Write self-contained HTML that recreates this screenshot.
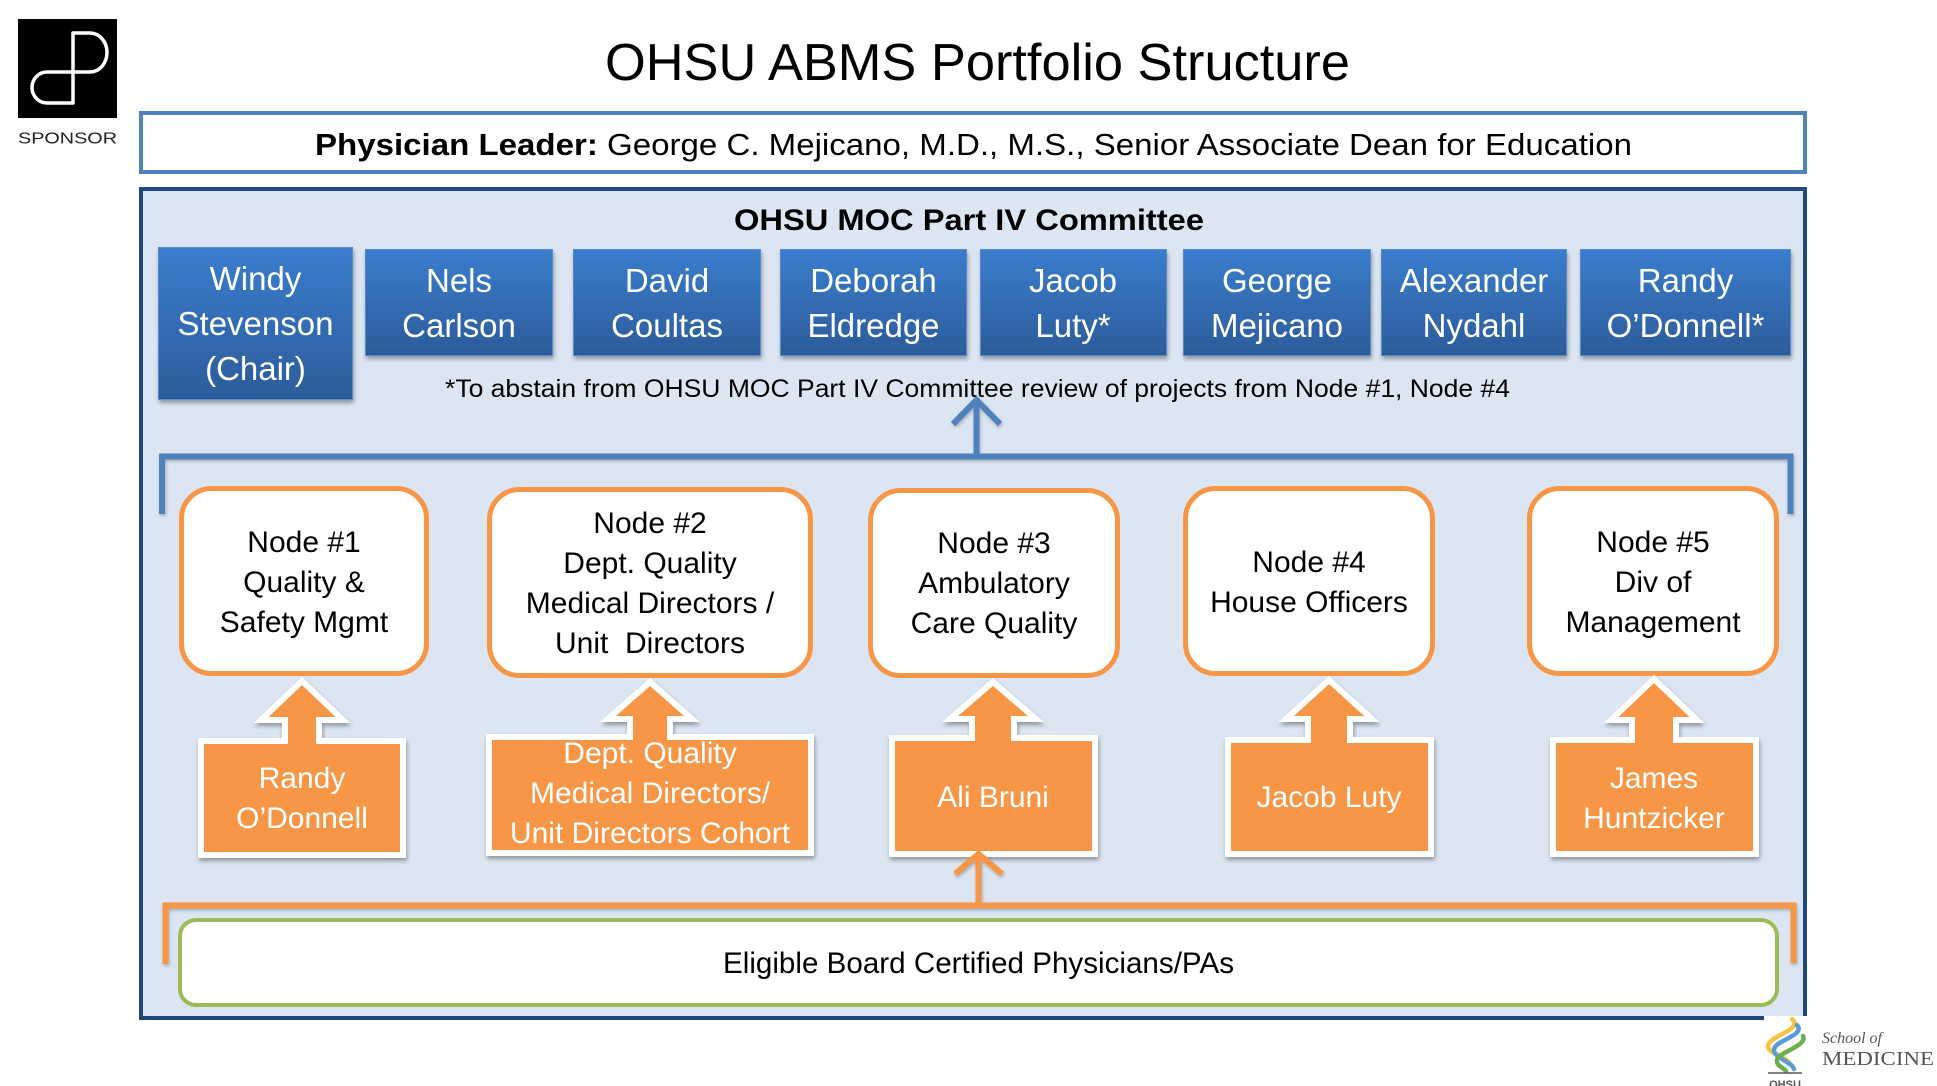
<!DOCTYPE html>
<html>
<head>
<meta charset="utf-8">
<style>
  html,body{margin:0;padding:0;background:#fff;}
  body{width:1937px;height:1086px;overflow:hidden;}
  svg{display:block;}
  text{font-family:"Liberation Sans", Arial, sans-serif;}
</style>
</head>
<body>
<svg width="1937" height="1086" viewBox="0 0 1937 1086" xmlns="http://www.w3.org/2000/svg">
  <defs>
    <linearGradient id="bg" x1="0" y1="0" x2="0" y2="1">
      <stop offset="0" stop-color="#3b7dcd"/>
      <stop offset="1" stop-color="#2c5c9a"/>
    </linearGradient>
    <filter id="sh" x="-10%" y="-10%" width="120%" height="130%">
      <feDropShadow dx="1" dy="3" stdDeviation="2" flood-color="#000" flood-opacity="0.35"/>
    </filter>
    <filter id="shl" x="-5%" y="-50%" width="110%" height="200%">
      <feDropShadow dx="1" dy="2" stdDeviation="1.5" flood-color="#000" flood-opacity="0.25"/>
    </filter>
  </defs>

  <!-- Sponsor logo -->
  <rect x="18" y="19" width="99" height="99" fill="#000"/>
  <path d="M73,103 V33 H90 A17,19.5 0 0 1 90,72 H47 A15,15.5 0 0 0 47,103 Z" fill="none" stroke="#fff" stroke-width="3.5" stroke-linejoin="round"/>
  <text x="18" y="143.5" font-size="16" textLength="99" lengthAdjust="spacingAndGlyphs" fill="#222">SPONSOR</text>

  <!-- Title -->
  <text x="605" y="80" font-size="52" textLength="745" lengthAdjust="spacingAndGlyphs" fill="#000">OHSU ABMS Portfolio Structure</text>

  <!-- Physician leader box -->
  <rect x="141" y="113" width="1664" height="59" fill="#fff" stroke="#4f81bd" stroke-width="4"/>
  <text x="315" y="155" font-size="31" textLength="1317" lengthAdjust="spacingAndGlyphs" fill="#000"><tspan font-weight="bold">Physician Leader:</tspan> George C. Mejicano, M.D., M.S., Senior Associate Dean for Education</text>

  <!-- Main committee box -->
  <rect x="141" y="189" width="1664" height="829" fill="#dce6f2" stroke="#1f497d" stroke-width="4"/>
  <text x="734" y="230" font-size="30" font-weight="bold" textLength="470" lengthAdjust="spacingAndGlyphs" fill="#000">OHSU MOC Part IV Committee</text>

  <!-- Blue member boxes -->
  <g filter="url(#sh)" stroke="#5a8bc9" stroke-width="1">
    <rect x="158.5" y="247.5" width="194" height="152" fill="url(#bg)"/>
    <rect x="365.5" y="249.5" width="187" height="106" fill="url(#bg)"/>
    <rect x="573.5" y="249.5" width="187" height="106" fill="url(#bg)"/>
    <rect x="780.5" y="249.5" width="186" height="106" fill="url(#bg)"/>
    <rect x="980.5" y="249.5" width="186" height="106" fill="url(#bg)"/>
    <rect x="1183.5" y="249.5" width="187" height="106" fill="url(#bg)"/>
    <rect x="1381.5" y="249.5" width="185" height="106" fill="url(#bg)"/>
    <rect x="1580.5" y="249.5" width="210" height="106" fill="url(#bg)"/>
  </g>
  <g fill="#fff" font-size="33" text-anchor="middle">
    <text x="255.5" y="290">Windy</text>
    <text x="255.5" y="335">Stevenson</text>
    <text x="255.5" y="380">(Chair)</text>
    <text x="459" y="292">Nels</text>
    <text x="459" y="337">Carlson</text>
    <text x="667" y="292">David</text>
    <text x="667" y="337">Coultas</text>
    <text x="873.5" y="292">Deborah</text>
    <text x="873.5" y="337">Eldredge</text>
    <text x="1073" y="292">Jacob</text>
    <text x="1073" y="337">Luty*</text>
    <text x="1277" y="292">George</text>
    <text x="1277" y="337">Mejicano</text>
    <text x="1474" y="292">Alexander</text>
    <text x="1474" y="337">Nydahl</text>
    <text x="1685.5" y="292">Randy</text>
    <text x="1685.5" y="337">O’Donnell*</text>
  </g>

  <!-- Footnote -->
  <text x="445" y="397" font-size="25" textLength="1065" lengthAdjust="spacingAndGlyphs" fill="#000">*To abstain from OHSU MOC Part IV Committee review of projects from Node #1, Node #4</text>

  <!-- Blue bracket and arrow -->
  <g filter="url(#shl)" fill="none" stroke="#4f81bd" stroke-width="6">
    <path d="M162,514 V456.5 H1790.5 V514" stroke-linejoin="miter"/>
    <path d="M976.5,456 V401"/>
    <path d="M953,424 L976.5,400 L1000,424"/>
  </g>

  <!-- Node boxes -->
  <g fill="#fff" stroke="#f79646" stroke-width="5">
    <rect x="181.5" y="488.5" width="245" height="185" rx="30"/>
    <rect x="489.5" y="489.5" width="321" height="186" rx="30"/>
    <rect x="870.5" y="490.5" width="247" height="185" rx="30"/>
    <rect x="1185.5" y="488.5" width="247" height="185" rx="30"/>
    <rect x="1529.5" y="488.5" width="247" height="185" rx="30"/>
  </g>
  <g fill="#000" font-size="30" text-anchor="middle">
    <text x="304" y="552">Node #1</text>
    <text x="304" y="592">Quality &amp;</text>
    <text x="304" y="632">Safety Mgmt</text>

    <text x="650" y="533">Node #2</text>
    <text x="650" y="573">Dept. Quality</text>
    <text x="650" y="613">Medical Directors /</text>
    <text x="650" y="653">Unit&#160; Directors</text>

    <text x="994" y="553">Node #3</text>
    <text x="994" y="593">Ambulatory</text>
    <text x="994" y="633">Care Quality</text>

    <text x="1309" y="572">Node #4</text>
    <text x="1309" y="612">House Officers</text>

    <text x="1653" y="552">Node #5</text>
    <text x="1653" y="592">Div of</text>
    <text x="1653" y="632">Management</text>
  </g>

  <!-- Orange up-arrow callouts -->
  <g fill="#f79646" stroke="#fff" stroke-width="6" stroke-linejoin="miter" filter="url(#sh)">
    <path d="M302,681 L343,720 L319,720 L319,741 L403,741 L403,855 L201,855 L201,741 L285,741 L285,720 L261,720 Z"/>
    <path d="M650,682 L692,719 L670,719 L670,737 L811,737 L811,853 L489,853 L489,737 L630,737 L630,719 L608,719 Z"/>
    <path d="M993,682 L1036,719 L1014,719 L1014,738 L1095,738 L1095,854 L892,854 L892,738 L972,738 L972,719 L950,719 Z"/>
    <path d="M1329,680 L1372,719 L1350,719 L1350,740 L1431,740 L1431,854 L1228,854 L1228,740 L1308,740 L1308,719 L1286,719 Z"/>
    <path d="M1654,679 L1697,720 L1676,720 L1676,740 L1756,740 L1756,854 L1553,854 L1553,740 L1632,740 L1632,720 L1611,720 Z"/>
  </g>
  <g fill="#fff" font-size="30" text-anchor="middle">
    <text x="302" y="788">Randy</text>
    <text x="302" y="828">O’Donnell</text>

    <text x="650" y="763">Dept. Quality</text>
    <text x="650" y="803">Medical Directors/</text>
    <text x="650" y="843">Unit Directors Cohort</text>

    <text x="993" y="807">Ali Bruni</text>

    <text x="1329" y="807">Jacob Luty</text>

    <text x="1654" y="788">James</text>
    <text x="1654" y="828">Huntzicker</text>
  </g>

  <!-- Orange bracket and arrow -->
  <g filter="url(#shl)" fill="none" stroke="#f79646" stroke-width="6">
    <path d="M165.5,964 V905.5 H1793.5 V963"/>
    <path d="M978.5,905 V856"/>
    <path d="M955,874 L978.5,854 L1002,874"/>
  </g>

  <!-- Green eligible box -->
  <rect x="180" y="920" width="1597" height="85" rx="16" fill="#fff" stroke="#9bbb59" stroke-width="4"/>
  <text x="723" y="973" font-size="29.5" textLength="511" lengthAdjust="spacingAndGlyphs" fill="#000">Eligible Board Certified Physicians/PAs</text>

  <!-- OHSU School of Medicine logo -->
  <rect x="1764" y="1016" width="173" height="70" fill="#fff"/>
  <g fill="none" stroke-width="4.5" stroke-linecap="round">
    <path d="M1792,1019 C1804,1030 1768,1036 1768,1046 C1768,1054 1786,1056 1790,1064" stroke="#f5c342"/>
    <path d="M1797,1025 C1806,1036 1774,1040 1774,1050 C1774,1058 1792,1062 1794,1069" stroke="#5b9bd5"/>
    <path d="M1803,1036 C1808,1046 1778,1052 1777,1060 C1776,1066 1784,1068 1786,1071" stroke="#6ab04c"/>
  </g>
  <line x1="1768" y1="1073" x2="1802" y2="1073" stroke="#555" stroke-width="1.5"/>
  <text x="1785" y="1088" font-size="11" font-weight="bold" text-anchor="middle" fill="#555">OHSU</text>
  <text x="1822" y="1043" font-style="italic" font-size="16" fill="#555" style="font-family:'Liberation Serif',serif">School of</text>
  <text x="1822" y="1065" font-size="20" textLength="112" lengthAdjust="spacingAndGlyphs" fill="#555" style="font-family:'Liberation Serif',serif">MEDICINE</text>
</svg>
</body>
</html>
